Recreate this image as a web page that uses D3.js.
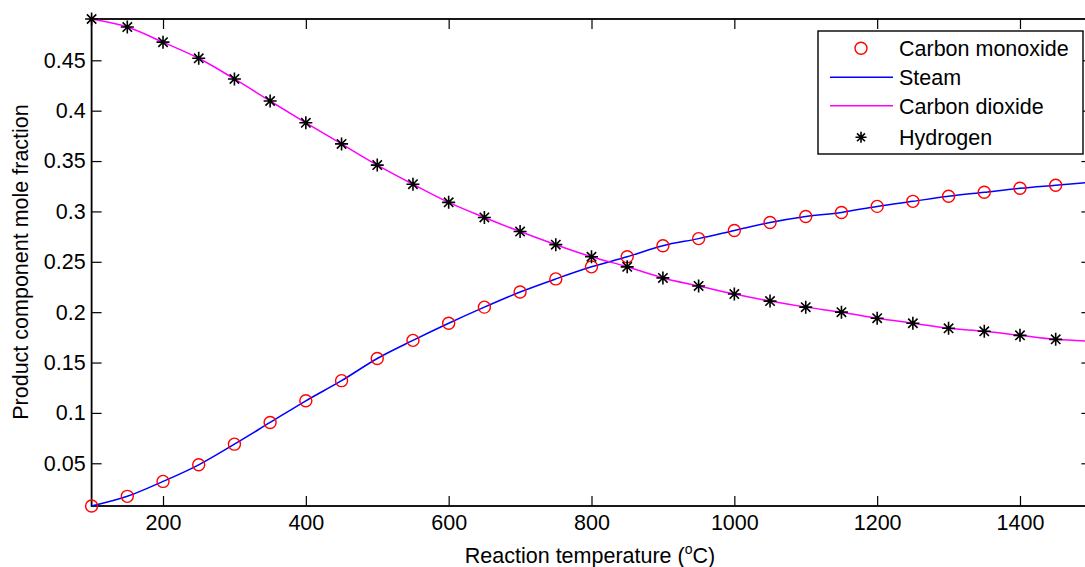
<!DOCTYPE html>
<html>
<head>
<meta charset="utf-8">
<script src="https://cdn.jsdelivr.net/npm/d3@7"></script>
<style>
  body { margin: 0; background: #fff; }
  text { font-family: "Liberation Sans", Arial, sans-serif; fill: #000; }
</style>
</head>
<body>
<div id="root"></div>
<script>
// Temperatures (deg C) where markers are drawn, plus line end point
const temps = [100, 150, 200, 250, 300, 350, 400, 450, 500, 550, 600, 650, 700, 750,
  800, 850, 900, 950, 1000, 1050, 1100, 1150, 1200, 1250, 1300, 1350, 1400, 1450, 1500];

// Carbon monoxide / steam mole fraction
const coValues = [0.0076, 0.0172, 0.032, 0.0485, 0.069, 0.0905, 0.112, 0.132, 0.154, 0.172,
  0.189, 0.205, 0.220, 0.233, 0.245, 0.255, 0.266, 0.273, 0.281, 0.289, 0.295, 0.299,
  0.305, 0.310, 0.315, 0.319, 0.323, 0.326, 0.329];

// Carbon dioxide / hydrogen mole fraction
const h2Values = [0.491, 0.483, 0.468, 0.452, 0.4315, 0.4096, 0.388, 0.367, 0.346, 0.327,
  0.309, 0.294, 0.280, 0.267, 0.255, 0.245, 0.234, 0.226, 0.218, 0.211, 0.205, 0.200,
  0.194, 0.189, 0.184, 0.181, 0.177, 0.173, 0.171];

const xTicks = [200, 400, 600, 800, 1000, 1200, 1400];
const yTicks = [0.05, 0.1, 0.15, 0.2, 0.25, 0.3, 0.35, 0.4, 0.45];
const legendLabels = ['Carbon monoxide', 'Steam', 'Carbon dioxide', 'Hydrogen'];

const width = 1085, height = 567;
const plot = { left: 91.6, right: 1091.4, top: 19, bottom: 506 };
const fontSize = 21.5;

const svg = d3.select('#root')
  .append('svg')
  .attr('width', width)
  .attr('height', height);

const x = d3.scaleLinear().domain([100, 1500]).range([plot.left, plot.right]);
const y = d3.scaleLinear().domain([d3.min(coValues), d3.max(h2Values)]).range([plot.bottom, plot.top]);

const co = temps.map((t, i) => ({ t, v: coValues[i] }));
const h2 = temps.map((t, i) => ({ t, v: h2Values[i] }));
const markerPts = d => d.t <= 1450;

// Axes (MATLAB style: ticks inside, box on)
const tickLen = 10;
const styleText = g => g.selectAll('text')
  .attr('font-size', fontSize)
  .attr('font-family', 'Liberation Sans, Arial')
  .attr('fill', '#000');

svg.append('g')
  .attr('transform', `translate(0,${plot.bottom})`)
  .call(d3.axisBottom(x).tickValues(xTicks).tickSizeInner(-tickLen).tickSizeOuter(0)
    .tickPadding(9).tickFormat(d3.format('d')))
  .call(g => g.select('.domain').remove())
  .call(styleText);

svg.append('g')
  .attr('transform', `translate(0,${plot.top})`)
  .call(d3.axisTop(x).tickValues(xTicks).tickSizeInner(-tickLen).tickSizeOuter(0).tickFormat(''))
  .call(g => g.select('.domain').remove());

svg.append('g')
  .attr('transform', `translate(${plot.left},0)`)
  .call(d3.axisLeft(y).tickValues(yTicks).tickSizeInner(-tickLen).tickSizeOuter(0).tickPadding(6)
    .tickFormat(d => String(+d.toFixed(2))))
  .call(g => g.select('.domain').remove())
  .call(styleText);

svg.append('g')
  .attr('transform', `translate(${plot.right},0)`)
  .call(d3.axisRight(y).tickValues(yTicks).tickSizeInner(-tickLen).tickSizeOuter(0).tickFormat(''))
  .call(g => g.select('.domain').remove());

svg.selectAll('.tick line').attr('stroke', '#000').attr('stroke-width', 1.2);

svg.append('rect')
  .attr('x', plot.left).attr('y', plot.top)
  .attr('width', plot.right - plot.left).attr('height', plot.bottom - plot.top)
  .attr('fill', 'none').attr('stroke', '#000').attr('stroke-width', 1.8);

// Lines
const line = d3.line().x(d => x(d.t)).y(d => y(d.v)).curve(d3.curveMonotoneX);
svg.append('path').datum(co).attr('d', line)
  .attr('fill', 'none').attr('stroke', '#0000ff').attr('stroke-width', 1.5);
svg.append('path').datum(h2).attr('d', line)
  .attr('fill', 'none').attr('stroke', '#ff00ff').attr('stroke-width', 1.5);

// Markers
const starPath = (r) => {
  const d = r * 0.72;
  return `M${-r},0L${r},0M0,${-r}L0,${r}M${-d},${-d}L${d},${d}M${-d},${d}L${d},${-d}`;
};

svg.append('g').selectAll('circle')
  .data(co.filter(markerPts))
  .enter()
    .append('circle')
    .attr('cx', d => x(d.t))
    .attr('cy', d => y(d.v))
    .attr('r', 6)
    .attr('fill', 'none')
    .attr('stroke', '#ff0000')
    .attr('stroke-width', 1.4);

svg.append('g').selectAll('path')
  .data(h2.filter(markerPts))
  .enter()
    .append('path')
    .attr('transform', d => `translate(${x(d.t)},${y(d.v)})`)
    .attr('d', starPath(6.5))
    .attr('stroke', '#000')
    .attr('stroke-width', 1.6);

// Legend
const lg = svg.append('g').attr('transform', 'translate(818,31)');
lg.append('rect')
  .attr('width', 265).attr('height', 123)
  .attr('fill', '#fff').attr('stroke', '#000').attr('stroke-width', 1.4);
const rowY = [17.3, 46.3, 74.7, 106.3];
legendLabels.forEach((label, i) => {
  const ry = rowY[i];
  if (i === 0) {
    lg.append('circle').attr('cx', 43).attr('cy', ry).attr('r', 6)
      .attr('fill', 'none').attr('stroke', '#ff0000').attr('stroke-width', 1.4);
  } else if (i === 3) {
    lg.append('path').attr('transform', `translate(43,${ry})`).attr('d', starPath(5.5))
      .attr('stroke', '#000').attr('stroke-width', 1.6);
  } else {
    lg.append('line').attr('x1', 12).attr('x2', 75).attr('y1', ry).attr('y2', ry)
      .attr('stroke', i === 1 ? '#0000ff' : '#ff00ff').attr('stroke-width', 1.5);
  }
  lg.append('text')
    .attr('x', 81).attr('y', ry + 8)
    .attr('font-size', fontSize)
    .text(label);
});

// Axis titles
const xt = svg.append('text')
  .attr('x', 590).attr('y', 563)
  .attr('text-anchor', 'middle')
  .attr('font-size', fontSize);
xt.append('tspan').text('Reaction temperature (');
xt.append('tspan').attr('font-size', 14).attr('dy', -9).text('o');
xt.append('tspan').attr('dy', 9).text('C)');

svg.append('text')
  .attr('transform', 'translate(28,262) rotate(-90)')
  .attr('text-anchor', 'middle')
  .attr('font-size', fontSize)
  .text('Product component mole fraction');
</script>
</body>
</html>
